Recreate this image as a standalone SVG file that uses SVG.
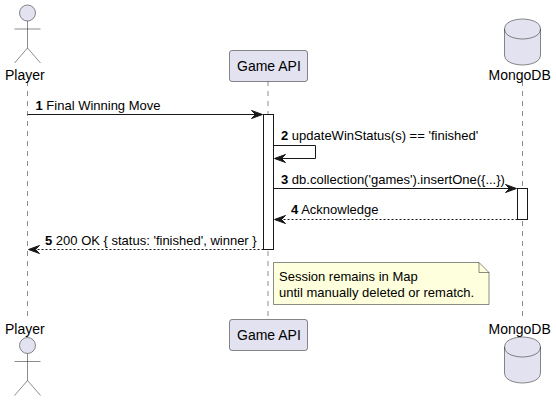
<svg xmlns="http://www.w3.org/2000/svg" width="556" height="401" viewBox="0 0 556 401">
<style>
text{font-family:"Liberation Sans",Arial,sans-serif;fill:#000}
.n{font-size:14px}.m{font-size:13px}.b{font-weight:bold}
.life{stroke:#181818;stroke-width:.5;stroke-dasharray:5,5;fill:none}
.part{fill:#E2E2F0;stroke:#181818;stroke-width:.5}
.act{fill:#fff;stroke:#181818;stroke-width:1}
.line{stroke:#181818;stroke-width:1;fill:none}
.dash{stroke-dasharray:2,2}
.head{fill:#181818;stroke:#181818;stroke-width:1}
</style>
<defs>
<path id="ah" d="M0,0 L-11,-4 L-7,0 L-11,4 Z"/>
<g id="actor"><circle class="part" cx="27.5" cy="0" r="8"/><path class="part" style="fill:none" d="M27.5,8V35M14.5,16H40.5M27.5,35L14.5,50M27.5,35L40.5,50"/></g>
<g id="db"><path class="part" d="M504.5,29C504.5,19 522.5,19 522.5,19C522.5,19 540.5,19 540.5,29V55C540.5,65 522.5,65 522.5,65C522.5,65 504.5,65 504.5,55Z"/><path class="part" style="fill:none" d="M504.5,29C504.5,39 522.5,39 522.5,39C522.5,39 540.5,39 540.5,29"/></g>
</defs>
<g id="lifelines">
<path class="life" d="M27.5,81V319"/>
<path class="life" d="M268,81V319"/>
<path class="life" d="M522.5,81V319"/>
</g>
<g id="player-top"><use href="#actor" y="13"/><text class="n" x="5" y="80">Player</text></g>
<g id="api-top"><rect class="part" x="229.5" y="50.5" width="78" height="31" rx="2.5"/><text class="n" x="237" y="71">Game API</text></g>
<g id="mongo-top"><use href="#db"/><text class="n" x="488.5" y="80">MongoDB</text></g>
<g id="activations">
<rect class="act" x="263.5" y="114.5" width="10" height="135"/>
<rect class="act" x="517.5" y="188.5" width="10" height="31"/>
</g>
<g id="connectors">
<path class="line" d="M27.5,114.5H262"/><use class="head" href="#ah" x="262.5" y="114.5"/>
<path class="line" d="M273.5,145.5H315.5V158.5H275"/><use class="head" href="#ah" transform="translate(274.5,158.5) scale(-1,1)"/>
<path class="line" d="M273.5,188.5H516"/><use class="head" href="#ah" x="516.5" y="188.5"/>
<path class="line dash" d="M517.5,219.5H275"/><use class="head" href="#ah" transform="translate(274.5,219.5) scale(-1,1)"/>
<path class="line dash" d="M263.5,249.5H29"/><use class="head" href="#ah" transform="translate(28.5,249.5) scale(-1,1)"/>
</g>
<g id="labels">
<text class="m" x="35.5" y="110"><tspan class="b">1</tspan> Final Winning Move</text>
<text class="m" x="281" y="140"><tspan class="b">2</tspan> updateWinStatus(s) == 'finished'</text>
<text class="m" x="281" y="184"><tspan class="b">3</tspan> db.collection('games').insertOne({...})</text>
<text class="m" x="291" y="214"><tspan class="b">4</tspan> Acknowledge</text>
<text class="m" x="45" y="245"><tspan class="b">5</tspan> 200 OK { status: 'finished', winner }</text>
</g>
<g id="note">
<path d="M273.5,262.5H479L489,272.5V304.5H273.5Z" fill="#FEFFDD" stroke="#181818" stroke-width=".5"/>
<path d="M479,262.5V272.5H489" fill="none" stroke="#181818" stroke-width=".5"/>
<text class="m" x="279" y="281">Session remains in Map</text>
<text class="m" x="279" y="297">until manually deleted or rematch.</text>
</g>
<g id="player-bottom"><text class="n" x="5" y="334">Player</text><use href="#actor" y="345.5"/></g>
<g id="api-bottom"><rect class="part" x="229.5" y="319.5" width="78" height="31" rx="2.5"/><text class="n" x="237" y="340">Game API</text></g>
<g id="mongo-bottom"><text class="n" x="488.5" y="334">MongoDB</text><use href="#db" y="318"/></g>
</svg>
